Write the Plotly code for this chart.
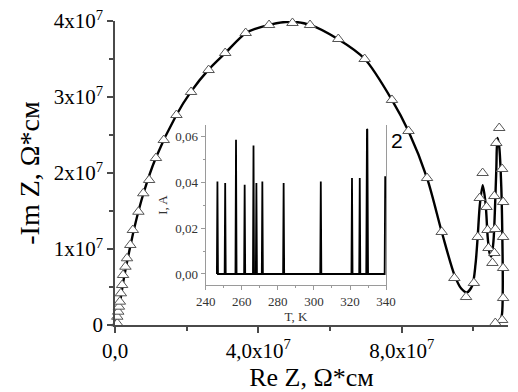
import plotly.graph_objects as go

# ---- main Nyquist plot (values in units of 1e7 Ohm*cm) ----
re_z_pts = [0.063, 0.063, 0.090, 0.109, 0.136, 0.163, 0.199, 0.226, 0.291, 0.335, 0.427, 0.498,
            0.653, 0.789, 0.952, 1.143, 1.361, 1.714, 2.122, 2.612, 3.075, 3.646, 4.299, 4.952,
            5.442, 6.231, 6.966, 7.728, 8.190, 8.707, 9.116, 9.469, 9.796, 10.014, 10.122,
            10.177, 10.258, 10.367, 10.395, 10.422, 10.531, 10.585, 10.612, 10.585, 10.639,
            10.721, 10.803, 10.830, 10.830, 10.830, 10.830, 10.803, 10.612]
im_z_pts = [0.022, 0.109, 0.175, 0.241, 0.307, 0.417, 0.526, 0.658, 0.767, 0.878, 1.053, 1.250,
            1.490, 1.733, 1.908, 2.197, 2.434, 2.763, 3.066, 3.355, 3.579, 3.842, 3.947, 3.974,
            3.947, 3.763, 3.500, 2.961, 2.553, 1.934, 1.224, 0.618, 0.368, 0.553, 1.158,
            1.671, 2.000, 1.553, 1.250, 1.013, 0.816, 0.947, 1.263, 1.697, 2.395,
            2.592, 2.053, 1.618, 1.158, 0.750, 0.355, 0.066, 0.026]

re_z_fit = [0.03, 0.08, 0.15, 0.25, 0.38, 0.55, 0.80, 1.14, 1.71, 2.12, 2.61, 3.08, 3.65, 4.30,
            4.90, 5.44, 6.23, 6.97, 7.73, 8.19, 8.71, 9.12, 9.47, 9.66, 9.82, 9.97, 10.06, 10.12,
            10.18, 10.26, 10.34, 10.40, 10.45, 10.50, 10.56, 10.60, 10.64, 10.67, 10.72, 10.78,
            10.81, 10.82, 10.80, 10.74, 10.62]
im_z_fit = [0.00, 0.15, 0.33, 0.62, 0.93, 1.30, 1.74, 2.20, 2.76, 3.07, 3.36, 3.58, 3.84, 3.95,
            3.99, 3.95, 3.76, 3.50, 2.96, 2.55, 1.93, 1.22, 0.66, 0.48, 0.43, 0.52, 0.80, 1.16,
            1.58, 1.84, 1.60, 1.15, 0.95, 0.90, 1.10, 1.50, 2.05, 2.46, 2.35, 1.80,
            1.10, 0.50, 0.15, 0.04, 0.00]

x_tickvals = [0, 4, 8]
x_ticktext = ["0,0", "4,0x10<sup>7</sup>", "8,0x10<sup>7</sup>"]
y_tickvals = [0, 1, 2, 3, 4]
y_ticktext = ["0", "1x10<sup>7</sup>", "2x10<sup>7</sup>", "3x10<sup>7</sup>", "4x10<sup>7</sup>"]

# ---- inset: current vs temperature ----
temp_k = [246.2, 246.5, 246.8, 250.5, 250.8, 251.1, 256.5, 256.8, 257.1, 261.3, 261.6, 261.9,
          266.2, 266.5, 266.8, 267.8, 268.1, 268.4, 271.1, 271.4, 271.7, 282.9, 283.2, 283.5,
          303.5, 303.8, 304.1, 320.8, 321.1, 321.4, 325.1, 325.4, 325.7, 329.0, 329.4, 329.6,
          330.0, 339.2, 339.5]
current_a = [0.0, 0.0404, 0.0, 0.0, 0.0397, 0.0, 0.0, 0.0586, 0.0, 0.0, 0.0389, 0.0,
             0.0, 0.0561, 0.0, 0.0, 0.0397, 0.0, 0.0, 0.0404, 0.0, 0.0, 0.0397, 0.0,
             0.0, 0.0404, 0.0, 0.0, 0.0419, 0.0, 0.0, 0.0419, 0.0, 0.0, 0.0633, 0.0630,
             0.0, 0.0, 0.0426]
inset_x_tickvals = [240, 260, 280, 300, 320, 340]
inset_x_ticktext = ["240", "260", "280", "300", "320", "340"]
inset_y_tickvals = [0.0, 0.02, 0.04, 0.06]
inset_y_ticktext = ["0,00", "0,02", "0,04", "0,06"]

SERIF = "Liberation Serif, Times New Roman, serif"
AX = "#4a4a4a"
INSET_AX = "#9a9a9a"

fig = go.Figure()
fig.add_trace(go.Scatter(x=re_z_fit, y=im_z_fit, mode="lines",
                         line=dict(color="black", width=2.4, shape="spline", smoothing=0.8),
                         cliponaxis=False, hoverinfo="skip", showlegend=False))
fig.add_trace(go.Scatter(x=re_z_pts, y=im_z_pts, mode="markers",
                         marker=dict(symbol="triangle-up", size=10, color="white",
                                     line=dict(color="#555555", width=1)),
                         cliponaxis=False, showlegend=False))
fig.add_trace(go.Scatter(x=temp_k, y=current_a, mode="lines", xaxis="x2", yaxis="y2",
                         line=dict(color="black", width=1.8), showlegend=False))

fig.update_layout(
    width=518, height=392,
    margin=dict(l=115, r=0, t=21, b=67),
    paper_bgcolor="white", plot_bgcolor="rgba(0,0,0,0)",
    font=dict(family=SERIF, color="black"),
    xaxis=dict(range=[0, 10.966], showline=True, linecolor=AX, linewidth=1.5,
               showgrid=False, zeroline=False, ticks="outside", ticklen=6, tickwidth=1.5,
               tickcolor=AX, tickmode="array", tickvals=x_tickvals, ticktext=x_ticktext,
               tickfont=dict(size=21, family=SERIF),
               minor=dict(tickvals=[2, 6, 10], ticks="outside", ticklen=4, tickcolor=AX, tickwidth=1.5),
               title=dict(text="Re Z, Ω*см", font=dict(size=26, family=SERIF), standoff=4)),
    yaxis=dict(range=[0, 4.0], showline=True, linecolor=AX, linewidth=1.5,
               showgrid=False, zeroline=False, ticks="outside", ticklen=6, tickwidth=1.5,
               tickcolor=AX, tickmode="array", tickvals=y_tickvals, ticktext=y_ticktext,
               tickfont=dict(size=21, family=SERIF),
               minor=dict(tickvals=[0.5, 1.5, 2.5, 3.5], ticks="outside", ticklen=4, tickcolor=AX, tickwidth=1.5),
               title=dict(text="-Im Z, Ω*см", font=dict(size=28, family=SERIF), standoff=6)),
    xaxis2=dict(domain=[0.2308, 0.6898], anchor="y2", range=[240, 340],
                showline=True, linecolor=INSET_AX, linewidth=1, showgrid=False, zeroline=False,
                ticks="outside", ticklen=4, tickcolor=INSET_AX, tickmode="array",
                tickvals=inset_x_tickvals, ticktext=inset_x_ticktext,
                tickfont=dict(size=13, family=SERIF, color="#333333"),
                minor=dict(dtick=10, tick0=240, ticks="outside", ticklen=2, tickcolor=INSET_AX),
                title=dict(text="T, K", font=dict(size=13, family=SERIF, color="#333333"), standoff=2)),
    yaxis2=dict(domain=[0.1316, 0.6579], anchor="x2", range=[-0.0048, 0.065],
                showline=True, linecolor=INSET_AX, linewidth=1, mirror=True, showgrid=False,
                zeroline=False, ticks="outside", ticklen=4, tickcolor=INSET_AX, tickmode="array",
                tickvals=inset_y_tickvals, ticktext=inset_y_ticktext,
                tickfont=dict(size=13, family=SERIF, color="#333333"),
                minor=dict(dtick=0.01, tick0=0, ticks="outside", ticklen=2, tickcolor=INSET_AX),
                title=dict(text="I, A", font=dict(size=13, family=SERIF, color="#333333"), standoff=4)),
    annotations=[dict(text="2", x=1.0, y=0.905, xref="x2 domain", yref="y2 domain",
                      xanchor="left", yanchor="middle", xshift=3, showarrow=False,
                      font=dict(size=21, family="Liberation Sans, Arial, sans-serif", color="black"))],
)

fig.write_html("out.html")
